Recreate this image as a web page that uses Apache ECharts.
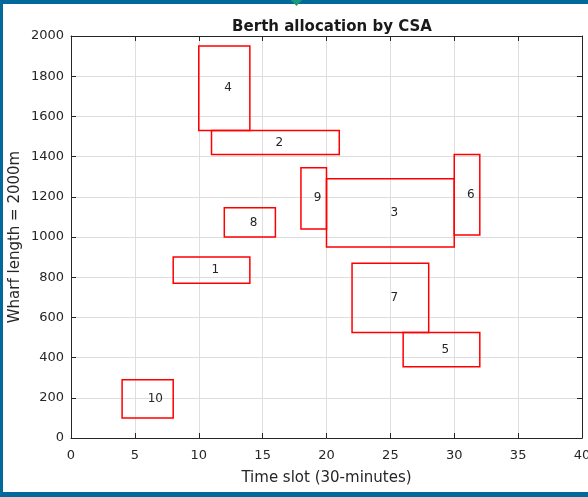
<!DOCTYPE html>
<html>
<head>
<meta charset="utf-8">
<script src="https://cdn.jsdelivr.net/npm/echarts@6/dist/echarts.min.js"></script>
<style>
html,body{margin:0;padding:0;background:#fff;overflow:hidden;}
#chart{width:588px;height:497px;}
</style>
</head>
<body>
<div id="chart"></div>
<script>
// Vessel allocations: id, time start/end (slots), wharf position start/end (m)
var vesselIds = ['1', '2', '3', '4', '5', '6', '7', '8', '9', '10'];
var timeStart = [8, 11, 20, 10, 26, 30, 22, 12, 18, 4];
var timeEnd   = [14, 21, 30, 14, 32, 32, 28, 16, 20, 8];
var posStart  = [770, 1410, 950, 1530, 355, 1010, 525, 1000, 1040, 100];
var posEnd    = [900, 1530, 1290, 1950, 525, 1410, 870, 1145, 1345, 290];

var xTicks = [0, 5, 10, 15, 20, 25, 30, 35, 40];
var yTicks = [0, 200, 400, 600, 800, 1000, 1200, 1400, 1600, 1800, 2000];

var data = vesselIds.map(function (id, i) {
  return [timeStart[i], timeEnd[i], posStart[i], posEnd[i], id];
});

var axisCol = '#262626';
var font = 'DejaVu Sans, Verdana, sans-serif';

var chart = echarts.init(document.getElementById('chart'), null, {renderer: 'canvas'});

function baseX(extra) {
  return Object.assign({
    type: 'value', min: xTicks[0], max: xTicks[xTicks.length - 1], interval: 5,
    axisLine: {show: true, onZero: false, lineStyle: {color: axisCol, width: 1}},
    axisTick: {show: true, inside: true, length: 5, lineStyle: {color: axisCol}},
    splitLine: {show: false}
  }, extra);
}
function baseY(extra) {
  return Object.assign({
    type: 'value', min: yTicks[0], max: yTicks[yTicks.length - 1], interval: 200,
    axisLine: {show: true, onZero: false, lineStyle: {color: axisCol, width: 1}},
    axisTick: {show: true, inside: true, length: 5, lineStyle: {color: axisCol}},
    splitLine: {show: false}
  }, extra);
}

var option = {
  backgroundColor: '#ffffff',
  animation: false,
  title: {
    text: 'Berth allocation by CSA',
    left: 327, top: 15, textAlign: 'center',
    textStyle: {fontFamily: font, fontSize: 15, fontWeight: 'bold', color: '#1a1a1a'}
  },
  grid: {left: 71, right: 6, top: 36, bottom: 59, containLabel: false, outerBoundsMode: 'none'},
  xAxis: [
    baseX({
      position: 'bottom',
      name: 'Time slot (30-minutes)', nameLocation: 'middle', nameGap: 33,
      nameMoveOverlap: false,
      nameTextStyle: {fontFamily: font, fontSize: 15, color: axisCol},
      axisLabel: {show: true, margin: 11, fontFamily: font, fontSize: 13, color: axisCol,
        formatter: function (v) { return String(v); }},
      splitLine: {show: true, lineStyle: {color: '#dedede', width: 1}}
    }),
    baseX({position: 'top', axisLabel: {show: false}})
  ],
  yAxis: [
    baseY({
      position: 'left',
      name: 'Wharf length = 2000m', nameLocation: 'middle', nameGap: 48,
      nameMoveOverlap: false,
      nameTextStyle: {fontFamily: font, fontSize: 15, color: axisCol},
      axisLabel: {show: true, margin: 7, fontFamily: font, fontSize: 13, color: axisCol,
        formatter: function (v) { return String(v); }},
      splitLine: {show: true, lineStyle: {color: '#dedede', width: 1}}
    }),
    baseY({position: 'right', axisLabel: {show: false}})
  ],
  graphic: [
    {type: 'rect', shape: {x: 0, y: 0, width: 588, height: 4}, style: {fill: '#03699a'}, z: 100},
    {type: 'rect', shape: {x: 0, y: 0, width: 3, height: 497}, style: {fill: '#03699a'}, z: 100},
    {type: 'rect', shape: {x: 0, y: 492, width: 588, height: 5}, style: {fill: '#03699a'}, z: 100},
    {type: 'polygon', shape: {points: [[291, 0], [302, 0], [296.5, 6]]}, style: {fill: '#1a9a78'}, z: 101}
  ],
  series: [{
    type: 'custom',
    xAxisIndex: 0, yAxisIndex: 0,
    data: data,
    renderItem: function (params, api) {
      var p0 = api.coord([api.value(0), api.value(3)]);
      var p1 = api.coord([api.value(1), api.value(2)]);
      var cx = (p0[0] + p1[0]) / 2;
      var cy = (p0[1] + p1[1]) / 2;
      return {
        type: 'group',
        children: [
          {
            type: 'rect',
            shape: {x: p0[0], y: p0[1], width: p1[0] - p0[0], height: p1[1] - p0[1]},
            style: {fill: 'none', stroke: '#ff0000', lineWidth: 1.5}
          },
          {
            type: 'text',
            style: {
              x: cx, y: cy, text: String(api.value(4)),
              textAlign: 'left', textVerticalAlign: 'middle',
              fontFamily: font, fontSize: 12, fill: '#262626'
            }
          }
        ]
      };
    }
  }]
};
chart.setOption(option);
</script>
</body>
</html>
